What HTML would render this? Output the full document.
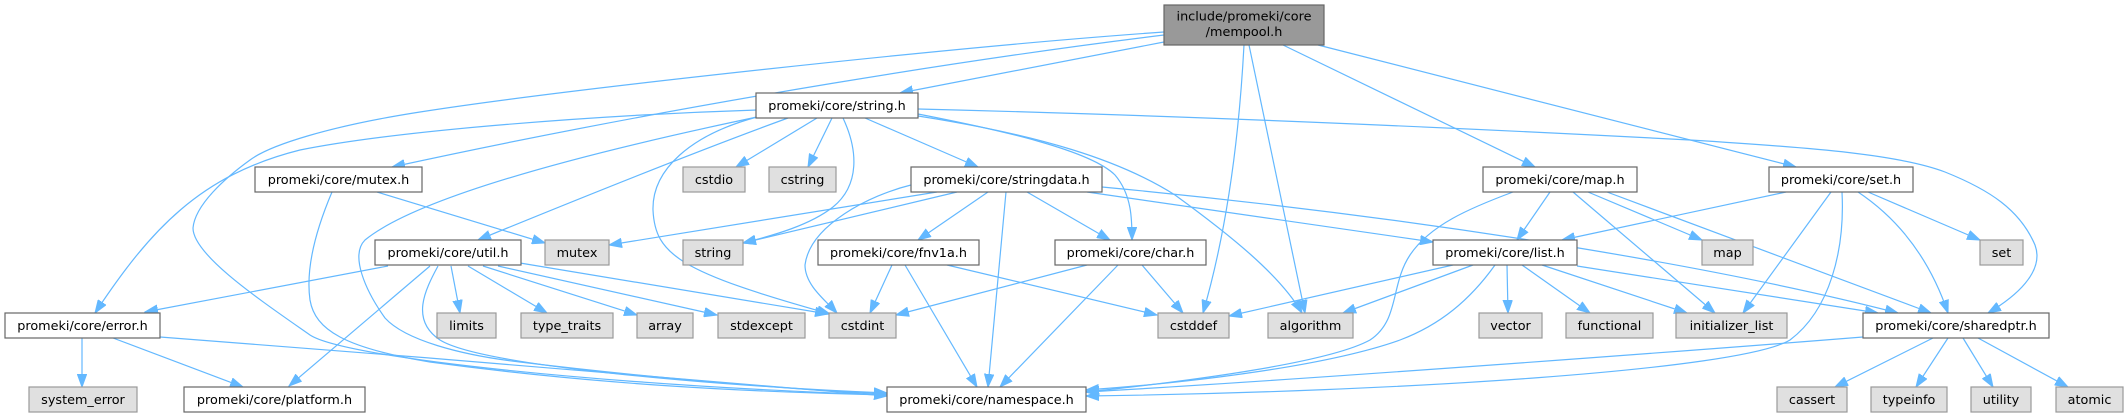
<!DOCTYPE html>
<html><head><meta charset="utf-8"><style>
html,body{margin:0;padding:0;background:#fff;}
svg{display:block;}
text{font-family:"DejaVu Sans","Liberation Sans",sans-serif;font-size:12.8px;fill:#000;text-anchor:middle;}
.w{fill:#fff;stroke:#666;stroke-width:1.2;}
.g{fill:#e0e0e0;stroke:#999;stroke-width:1.2;}
.r{fill:#999;stroke:#666;stroke-width:1.2;}
.e path{fill:none;stroke:#63b8ff;stroke-width:1.2;marker-end:url(#a);}
</style></head><body>
<svg width="2128" height="417" viewBox="0 0 2128 417" xmlns="http://www.w3.org/2000/svg">
<defs><marker id="a" markerWidth="14" markerHeight="10" refX="13" refY="5" orient="auto" markerUnits="userSpaceOnUse"><path d="M0,0.3 L13,5 L0,9.7 z" fill="#63b8ff" stroke="#63b8ff" stroke-width="1"/></marker></defs>
<g class="e">
<path d="M1164,42 L900,93"/>
<path d="M1164,35 C1000,55 700,100 392,167"/>
<path d="M1164,32 C950,47 560,90 420,112 C330,126 270,145 250,160 C225,178 195,205 193,228 C193,255 260,300 310,335 C345,358 600,385 887,395"/>
<path d="M757,110 C600,115 400,130 300,150 C200,175 150,230 95,313"/>
<path d="M757,117 C600,150 420,195 365,240 C350,255 365,290 385,318 C405,340 460,355 520,362 C650,378 800,390 887,394"/>
<path d="M918,109 C1200,116 1500,130 1690,140 C1820,148 1900,155 1945,172 C1990,190 2020,210 2035,245 C2045,272 2015,297 1988,313"/>
<path d="M865,118 L978,167"/>
<path d="M788,118 C700,150 600,190 478,240"/>
<path d="M817,118 L736,167"/>
<path d="M832,118 L808,167"/>
<path d="M843,118 C858,150 860,185 833,207 C810,225 775,235 743,243"/>
<path d="M757,117 C690,135 652,170 653,210 C655,255 680,272 830,314"/>
<path d="M918,114 C1000,130 1090,150 1115,175 C1132,195 1132,220 1132,240"/>
<path d="M918,116 C1040,135 1120,160 1175,195 C1230,235 1280,275 1302,313"/>
<path d="M1244,45 C1240,120 1230,220 1203,313"/>
<path d="M1249,45 L1305,313"/>
<path d="M1283,45 L1535,167"/>
<path d="M1318,45 L1796,167"/>
<path d="M377,192 L545,243"/>
<path d="M332,192 C318,225 305,265 310,300 C315,330 345,348 430,362 C600,385 750,392 887,395"/>
<path d="M957,192 L743,243"/>
<path d="M937,192 L609,245"/>
<path d="M911,185 C870,195 810,225 805,265 C805,285 825,300 837,313"/>
<path d="M988,192 L918,240"/>
<path d="M1006,192 L988,387"/>
<path d="M1027,192 L1110,240"/>
<path d="M1087,192 L1433,242"/>
<path d="M1102,187 C1400,215 1700,262 1898,313"/>
<path d="M388,266 L145,312"/>
<path d="M430,266 L289,386"/>
<path d="M438,266 C425,290 410,320 440,340 C480,365 700,385 887,393"/>
<path d="M451,266 L460,313"/>
<path d="M468,266 L547,313"/>
<path d="M483,266 L637,315"/>
<path d="M498,266 L717,315"/>
<path d="M520,263 L828,314"/>
<path d="M82,338 L82,387"/>
<path d="M113,338 L243,387"/>
<path d="M160,337 C400,355 700,380 887,396"/>
<path d="M892,265 L870,313"/>
<path d="M905,265 L977,387"/>
<path d="M947,265 L1157,315"/>
<path d="M1087,265 L896,315"/>
<path d="M1118,265 L1000,387"/>
<path d="M1142,265 L1183,313"/>
<path d="M1550,192 L1517,240"/>
<path d="M1513,192 C1470,208 1430,225 1410,255 C1390,285 1400,320 1370,340 C1330,362 1200,380 1086,392"/>
<path d="M1573,192 L1715,313"/>
<path d="M1588,192 L1702,240"/>
<path d="M1607,192 L1931,313"/>
<path d="M1453,265 L1229,316"/>
<path d="M1473,265 L1343,313"/>
<path d="M1495,265 C1470,300 1440,325 1400,340 C1330,365 1200,382 1086,390"/>
<path d="M1507,265 L1508,313"/>
<path d="M1522,265 L1590,313"/>
<path d="M1542,265 L1687,313"/>
<path d="M1577,266 L1878,313"/>
<path d="M1786,192 L1562,240"/>
<path d="M1831,192 L1743,313"/>
<path d="M1842,192 C1845,250 1830,310 1790,340 C1740,370 1400,392 1086,396"/>
<path d="M1858,192 C1900,220 1930,260 1948,313"/>
<path d="M1868,192 L1980,240"/>
<path d="M1863,337 C1700,350 1300,380 1086,392"/>
<path d="M1933,338 L1835,387"/>
<path d="M1948,338 L1916,387"/>
<path d="M1963,338 L1993,387"/>
<path d="M1978,338 L2068,387"/>
</g>
<rect class="r" x="1164" y="5" width="160" height="40"/>
<text x="1244" y="20.7">include/promeki/core</text>
<text x="1244" y="36">/mempool.h</text>
<rect class="w" x="756" y="93" width="162" height="25"/><text x="837" y="110">promeki/core/string.h</text>
<rect class="w" x="255" y="167" width="167" height="25"/><text x="338.5" y="184">promeki/core/mutex.h</text>
<rect class="w" x="911" y="167" width="191" height="25"/><text x="1006.5" y="184">promeki/core/stringdata.h</text>
<rect class="w" x="1483" y="167" width="154" height="25"/><text x="1560" y="184">promeki/core/map.h</text>
<rect class="w" x="1769" y="167" width="144" height="25"/><text x="1841" y="184">promeki/core/set.h</text>
<rect class="w" x="5" y="313" width="155" height="25"/><text x="82.5" y="330">promeki/core/error.h</text>
<rect class="w" x="375" y="240" width="146" height="25"/><text x="448" y="257">promeki/core/util.h</text>
<rect class="w" x="818" y="240" width="161" height="25"/><text x="898.5" y="257">promeki/core/fnv1a.h</text>
<rect class="w" x="1055" y="240" width="151" height="25"/><text x="1130.5" y="257">promeki/core/char.h</text>
<rect class="w" x="1433" y="240" width="144" height="25"/><text x="1505" y="257">promeki/core/list.h</text>
<rect class="w" x="1863" y="313" width="186" height="25"/><text x="1956" y="330">promeki/core/sharedptr.h</text>
<rect class="w" x="184" y="387" width="181" height="25"/><text x="274.5" y="404">promeki/core/platform.h</text>
<rect class="w" x="887" y="387" width="199" height="25"/><text x="986.5" y="404">promeki/core/namespace.h</text>
<rect class="g" x="683" y="167" width="62" height="25"/><text x="714" y="184">cstdio</text>
<rect class="g" x="769" y="167" width="67" height="25"/><text x="802.5" y="184">cstring</text>
<rect class="g" x="545" y="240" width="64" height="25"/><text x="577" y="257">mutex</text>
<rect class="g" x="683" y="240" width="60" height="25"/><text x="713" y="257">string</text>
<rect class="g" x="1702" y="240" width="51" height="25"/><text x="1727.5" y="257">map</text>
<rect class="g" x="1980" y="240" width="43" height="25"/><text x="2001.5" y="257">set</text>
<rect class="g" x="437" y="313" width="59" height="25"/><text x="466.5" y="330">limits</text>
<rect class="g" x="521" y="313" width="92" height="25"/><text x="567" y="330">type_traits</text>
<rect class="g" x="637" y="313" width="56" height="25"/><text x="665" y="330">array</text>
<rect class="g" x="718" y="313" width="87" height="25"/><text x="761.5" y="330">stdexcept</text>
<rect class="g" x="829" y="313" width="67" height="25"/><text x="862.5" y="330">cstdint</text>
<rect class="g" x="1158" y="313" width="71" height="25"/><text x="1193.5" y="330">cstddef</text>
<rect class="g" x="1268" y="313" width="85" height="25"/><text x="1310.5" y="330">algorithm</text>
<rect class="g" x="1479" y="313" width="63" height="25"/><text x="1510.5" y="330">vector</text>
<rect class="g" x="1566" y="313" width="87" height="25"/><text x="1609.5" y="330">functional</text>
<rect class="g" x="1676" y="313" width="111" height="25"/><text x="1731.5" y="330">initializer_list</text>
<rect class="g" x="29" y="387" width="108" height="25"/><text x="83" y="404">system_error</text>
<rect class="g" x="1777" y="387" width="70" height="25"/><text x="1812" y="404">cassert</text>
<rect class="g" x="1871" y="387" width="76" height="25"/><text x="1909" y="404">typeinfo</text>
<rect class="g" x="1971" y="387" width="60" height="25"/><text x="2001" y="404">utility</text>
<rect class="g" x="2056" y="387" width="67" height="25"/><text x="2089.5" y="404">atomic</text>
</svg>
</body></html>
